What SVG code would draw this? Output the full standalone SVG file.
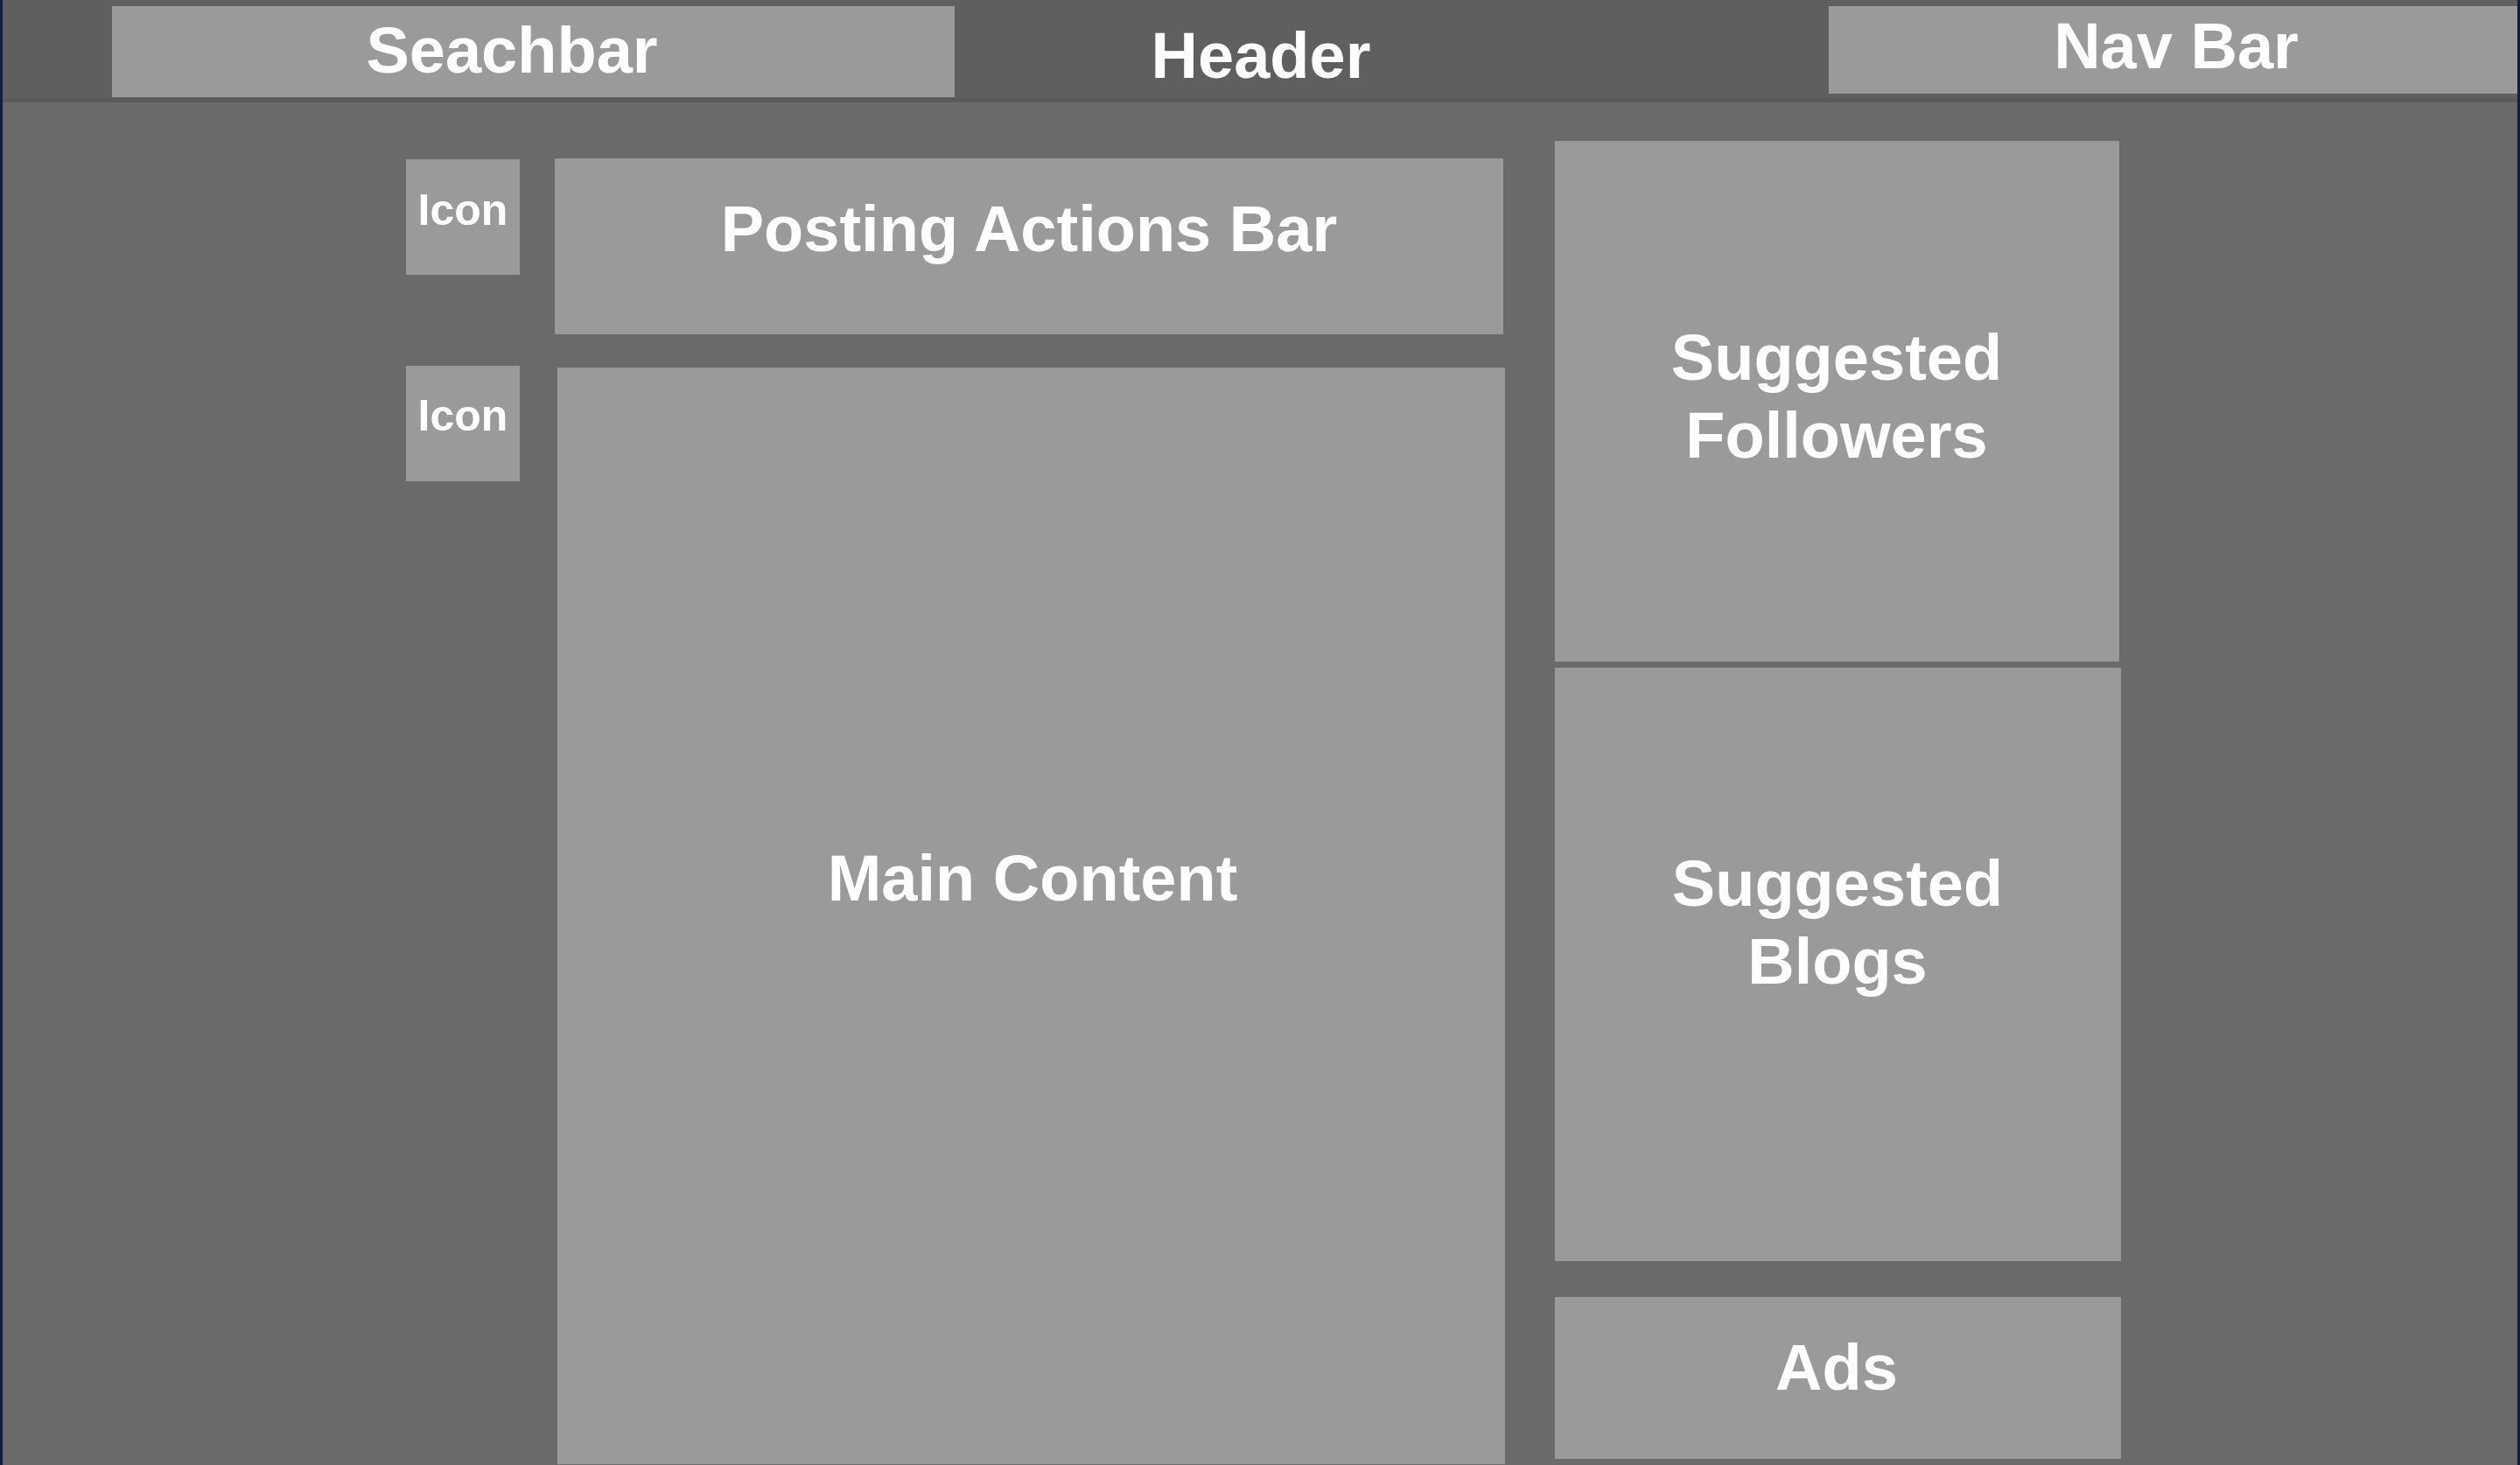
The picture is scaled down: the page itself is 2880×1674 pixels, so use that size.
<svg xmlns="http://www.w3.org/2000/svg" width="2880" height="1674" viewBox="0 0 2880 1674">
<style>
.box{fill:#9a9a9a}
.t{font-family:"Liberation Sans",Arial,sans-serif;font-weight:bold;fill:#ffffff;text-anchor:middle;font-size:74px}
.s{font-size:50px}
</style>
<rect x="0" y="0" width="2880" height="1674" fill="#0c2041"/>
<rect x="3" y="0" width="2874" height="1674" fill="#6a6a6a"/>
<g id="header">
<rect x="3" y="0" width="2874" height="117" fill="#5f5f5f"/>
<rect x="3" y="112" width="2874" height="5" fill="#5a5a5a"/>
<text class="t" x="1441" y="89">Header</text>
</g>
<g id="searchbar">
<rect class="box" x="128" y="7" width="963" height="104"/>
<text class="t" x="585" y="83">Seachbar</text>
</g>
<g id="navbar">
<rect class="box" x="2090" y="7" width="787" height="100"/>
<text class="t" x="2487" y="78">Nav Bar</text>
</g>
<g id="icon1">
<rect class="box" x="464" y="182" width="130" height="132"/>
<text class="t s" x="529" y="257">Icon</text>
</g>
<g id="icon2">
<rect class="box" x="464" y="418" width="130" height="132"/>
<text class="t s" x="529" y="492">Icon</text>
</g>
<g id="posting-actions-bar">
<rect class="box" x="634" y="181" width="1084" height="201"/>
<text class="t" x="1176" y="287">Posting Actions Bar</text>
</g>
<g id="main-content">
<rect class="box" x="637" y="420" width="1083" height="1253"/>
<text class="t" x="1180" y="1029">Main Content</text>
</g>
<g id="suggested-followers">
<rect class="box" x="1777" y="161" width="645" height="595"/>
<text class="t" x="2099" y="434">Suggested</text>
<text class="t" x="2099" y="523">Followers</text>
</g>
<g id="suggested-blogs">
<rect class="box" x="1777" y="763" width="647" height="678"/>
<text class="t" x="2100" y="1035">Suggested</text>
<text class="t" x="2100" y="1124">Blogs</text>
</g>
<g id="ads">
<rect class="box" x="1777" y="1482" width="647" height="185"/>
<text class="t" x="2099" y="1588">Ads</text>
</g>
<g id="connectors"/>
</svg>
